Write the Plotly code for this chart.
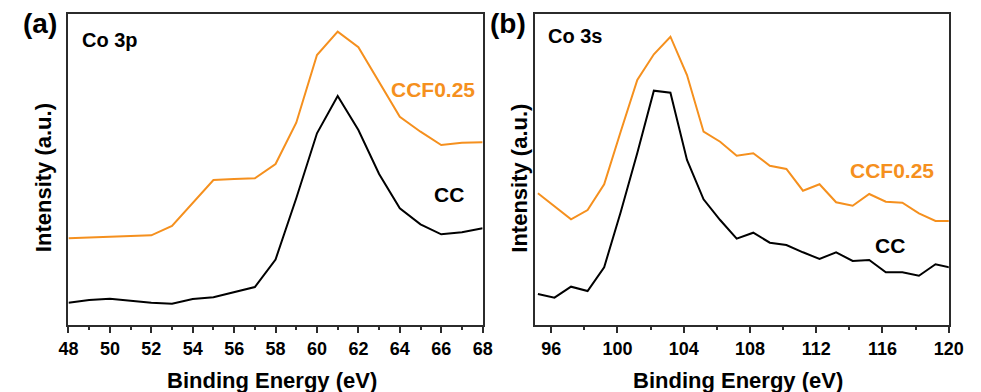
import plotly.graph_objects as go

# ---------------- data ----------------
# Panel (a): Co 3p
energy_a = [48, 49, 50, 51, 52, 53, 54, 55, 56, 57, 58, 59, 60, 61, 62, 63, 64, 65, 66, 67, 68]
ccf_a = [86.7, 87.5, 88.3, 89, 89.7, 99, 122, 145, 146, 146.7, 161, 202.3, 270, 293.3, 277.7,
         242.3, 208.3, 193.3, 180, 182.3, 182.7]
cc_a = [22.3, 25, 26.3, 24.3, 22.3, 21.3, 26, 27.7, 33, 38, 65.5, 126.7, 191.7, 229, 195,
        151, 116.7, 100.7, 90.7, 92.7, 96.7]

# Panel (b): Co 3s
energy_b = [95.2, 96.2, 97.2, 98.2, 99.2, 100.2, 101.2, 102.2, 103.2, 104.2, 105.2, 106.2, 107.2,
            108.2, 109.2, 110.2, 111.2, 112.2, 113.2, 114.2, 115.2, 116.2, 117.2, 118.2, 119.2, 120.2]
ccf_b = [131.7, 119, 105.7, 115, 140.7, 193.5, 245, 270.7, 288.3, 250, 193.3, 183.3, 169.3,
         171.7, 159.3, 156, 134.3, 140.7, 122.7, 119.3, 131, 123.3, 122.3, 111.7, 104, 104]
cc_b = [31, 27.3, 38.3, 34, 57.7, 113, 172, 234.3, 232.3, 165, 125.7, 105, 86.3,
        92.3, 82.3, 80, 72.7, 66, 72.7, 64, 65, 52.7, 52.7, 49.3, 60.7, 57]

ticks_a = [48, 50, 52, 54, 56, 58, 60, 62, 64, 66, 68]
ticks_b = [96, 100, 104, 108, 112, 116, 120]

ORANGE = "#F5901E"
BLACK = "#000000"
FRAME = "#2b2b2b"
FONT = "Arial, Liberation Sans, sans-serif"

W, H = 981, 392


def px(x):
    return x / W


def py(y):
    return 1 - y / H


fig = go.Figure()
fig.add_trace(go.Scatter(x=energy_a, y=ccf_a, mode="lines", line=dict(color=ORANGE, width=2),
                         xaxis="x", yaxis="y", showlegend=False))
fig.add_trace(go.Scatter(x=energy_a, y=cc_a, mode="lines", line=dict(color=BLACK, width=2),
                         xaxis="x", yaxis="y", showlegend=False))
fig.add_trace(go.Scatter(x=energy_b, y=ccf_b, mode="lines", line=dict(color=ORANGE, width=2),
                         xaxis="x2", yaxis="y2", showlegend=False))
fig.add_trace(go.Scatter(x=energy_b, y=cc_b, mode="lines", line=dict(color=BLACK, width=2),
                         xaxis="x2", yaxis="y2", showlegend=False))

tickfont = dict(family=FONT, size=18, color="#000", weight="bold")
common_x = dict(showline=True, mirror=True, linecolor=FRAME, linewidth=2,
                ticks="outside", ticklen=6, tickwidth=1.5, tickcolor=FRAME,
                showgrid=False, zeroline=False, tickfont=tickfont)
common_y = dict(showline=True, mirror=True, linecolor=FRAME, linewidth=2,
                showticklabels=False, ticks="", showgrid=False, zeroline=False,
                range=[0, 311])

y_top, y_bot = py(14), py(325)

fig.update_layout(
    width=W, height=H,
    margin=dict(l=0, r=0, t=0, b=0),
    paper_bgcolor="white", plot_bgcolor="white",
    xaxis=dict(domain=[px(60), px(485)], range=[48, 68], tickvals=ticks_a,
               minor=dict(dtick=1, ticks="outside", ticklen=3, tickwidth=1.5, tickcolor=FRAME),
               anchor="y", **common_x),
    yaxis=dict(domain=[y_bot, y_top], anchor="x", **common_y),
    xaxis2=dict(domain=[px(538.3), px(963.3)], range=[95, 120], tickvals=ticks_b,
                minor=dict(dtick=2, tick0=96, ticks="outside", ticklen=3, tickwidth=1.5, tickcolor=FRAME),
                anchor="y2", **common_x),
    yaxis2=dict(domain=[y_bot, y_top], anchor="x2", **common_y),
)


def ann(text, x, y, size, color="#000", angle=0):
    fig.add_annotation(text=text, x=px(x), y=py(y), xref="paper", yref="paper",
                       showarrow=False, xanchor="center", yanchor="middle", textangle=angle,
                       font=dict(family=FONT, size=size, color=color, weight="bold"))


# panel labels
ann("(a)", 31, 24, 28)
ann("(b)", 511, 24, 28)
# core-level labels
ann("Co 3p", 103, 40, 20)
ann("Co 3s", 580, 36, 20)
# series labels
ann("CCF0.25", 434, 89, 21, color=ORANGE)
ann("CC", 450, 194, 21)
ann("CCF0.25", 905, 170, 21, color=ORANGE)
ann("CC", 903, 245, 21)
# axis titles
ann("Binding Energy (eV)", 269, 380, 22)
ann("Binding Energy (eV)", 747, 380, 22)
ann("Intensity (a.u.)", 34, 178, 22, angle=-90)
ann("Intensity (a.u.)", 522, 178, 22, angle=-90)

fig.write_html("out.html")
